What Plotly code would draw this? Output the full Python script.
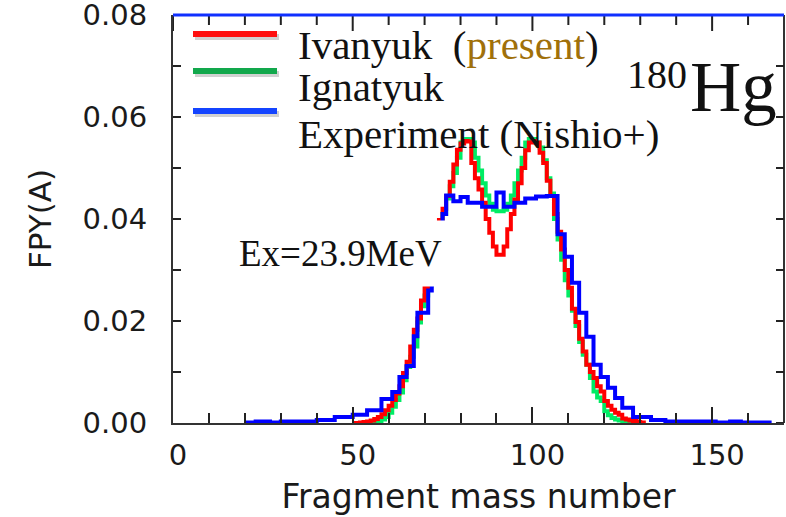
import plotly.graph_objects as go

# ---------------- data ----------------
mass_theory = list(range(50, 132))
ivanyuk = [0.0000, 0.0000, 0.0001, 0.0002, 0.0003, 0.0005, 0.0008, 0.0012, 0.0017, 0.0025,  # 50-59
           0.0034, 0.0045, 0.0058, 0.0072, 0.0098, 0.0120, 0.0150, 0.0183, 0.0205, 0.0240,  # 60-69
           0.0265, 0.0295, 0.0330, 0.0365, 0.0398, 0.0420, 0.0445, 0.0473, 0.0507, 0.0536,  # 70-79
           0.0548, 0.0553, 0.0552, 0.0510, 0.0480, 0.0458, 0.0432, 0.0400, 0.0373, 0.0346,  # 80-89
           0.0330, 0.0330, 0.0346, 0.0380, 0.0410, 0.0438, 0.0470, 0.0500, 0.0535, 0.0550,  # 90-99
           0.0553, 0.0550, 0.0530, 0.0510, 0.0475, 0.0445, 0.0410, 0.0375, 0.0340, 0.0300,  # 100-109
           0.0265, 0.0224, 0.0198, 0.0165, 0.0140, 0.0114, 0.0100, 0.0088, 0.0072, 0.0062,  # 110-119
           0.0043, 0.0034, 0.0026, 0.0020, 0.0016, 0.0009, 0.0007, 0.0005, 0.0004, 0.0002,  # 120-129
           0.0001, 0.0000]                                                                  # 130-131
ignatyuk = [0.0000, 0.0000, 0.0000, 0.0000, 0.0000, 0.0001, 0.0002, 0.0003, 0.0007, 0.0012,  # 50-59
            0.0020, 0.0032, 0.0045, 0.0060, 0.0084, 0.0110, 0.0130, 0.0150, 0.0197, 0.0229,  # 60-69
            0.0250, 0.0270, 0.0310, 0.0345, 0.0380, 0.0410, 0.0440, 0.0464, 0.0490, 0.0520,  # 70-79
            0.0550, 0.0557, 0.0557, 0.0550, 0.0520, 0.0495, 0.0470, 0.0446, 0.0430, 0.0418,  # 80-89
            0.0415, 0.0415, 0.0418, 0.0430, 0.0446, 0.0470, 0.0495, 0.0520, 0.0550, 0.0557,  # 90-99
            0.0557, 0.0550, 0.0540, 0.0515, 0.0480, 0.0450, 0.0400, 0.0360, 0.0320, 0.0280,  # 100-109
            0.0250, 0.0220, 0.0190, 0.0159, 0.0134, 0.0114, 0.0088, 0.0062, 0.0050, 0.0043,  # 110-119
            0.0023, 0.0015, 0.0010, 0.0007, 0.0005, 0.0002, 0.0001, 0.0000, 0.0000, 0.0000,  # 120-129
            0.0000, 0.0000]                                                                   # 130-131

mass_exp = list(range(20, 167))
experiment = [0.0001, 0.0001, 0.0001, 0.0003, 0.0003, 0.0003, 0.0003, 0.0001, 0.0001, 0.0001,  # 20-29
              0.0003, 0.0003, 0.0003, 0.0003, 0.0003, 0.0003, 0.0003, 0.0003, 0.0003, 0.0003,  # 30-39
              0.0006, 0.0006, 0.0006, 0.0006, 0.0006, 0.0012, 0.0012, 0.0012, 0.0012, 0.0012,  # 40-49
              0.0016, 0.0016, 0.0016, 0.0016, 0.0025, 0.0025, 0.0025, 0.0025, 0.0047, 0.0047,  # 50-59
              0.0047, 0.0061, 0.0061, 0.0090, 0.0090, 0.0112, 0.0112, 0.0170, 0.0216, 0.0216,  # 60-69
              0.0216, 0.0260, 0.0300, 0.0340, 0.0380, 0.0410, 0.0446, 0.0446, 0.0435, 0.0435,  # 70-79
              0.0443, 0.0443, 0.0432, 0.0432, 0.0432, 0.0432, 0.0424, 0.0424, 0.0424, 0.0424,  # 80-89
              0.0452, 0.0452, 0.0424, 0.0424, 0.0424, 0.0432, 0.0432, 0.0432, 0.0440, 0.0440,  # 90-99
              0.0440, 0.0444, 0.0444, 0.0444, 0.0445, 0.0445, 0.0445, 0.0370, 0.0370, 0.0326,  # 100-109
              0.0326, 0.0275, 0.0275, 0.0216, 0.0216, 0.0169, 0.0169, 0.0114, 0.0114, 0.0090,  # 110-119
              0.0090, 0.0069, 0.0069, 0.0049, 0.0049, 0.0030, 0.0030, 0.0030, 0.0012, 0.0012,  # 120-129
              0.0012, 0.0012, 0.0012, 0.0006, 0.0006, 0.0006, 0.0006, 0.0003, 0.0003, 0.0003,  # 130-139
              0.0003, 0.0003, 0.0003, 0.0003, 0.0003, 0.0003, 0.0003, 0.0003, 0.0003, 0.0003,  # 140-149
              0.0003, 0.0001, 0.0001, 0.0001, 0.0001, 0.0003, 0.0003, 0.0003, 0.0001, 0.0001,  # 150-159
              0.0001, 0.0001, 0.0001, 0.0001, 0.0001, 0.0001, 0.0000]                          # 160-166

x_tick_vals = [0, 50, 100, 150]
x_tick_text = ["0", "50", "100", "150"]
x_minor_vals = [0, 10, 20, 30, 40, 50, 60, 70, 80, 90, 100, 110, 120, 130, 140, 150, 160, 170]
y_tick_vals = [0.00, 0.02, 0.04, 0.06, 0.08]
y_tick_text = ["0.00", "0.02", "0.04", "0.06", "0.08"]
y_minor_vals = [0.00, 0.01, 0.02, 0.03, 0.04, 0.05, 0.06, 0.07, 0.08]

legend_names = ["Ivanyuk  (<span style='color:#a0700a'>present</span>)",
                "Ignatyuk",
                "Experiment (Nishio+)"]

# ---------------- figure ----------------
W, H = 786, 517
ML, MR, MT, MB = 173, 2, 15, 94
PW, PH = W - ML - MR, H - MT - MB


def px_x(px):
    return (px - ML) / PW


def px_y(py):
    return (H - MB - py) / PH


fig = go.Figure()
fig.add_trace(go.Scatter(x=mass_theory, y=ignatyuk, mode="lines", line=dict(color="#00ec64", width=4, shape="hv"),
                         name="Ignatyuk", showlegend=False))
fig.add_trace(go.Scatter(x=mass_theory, y=ivanyuk, mode="lines", line=dict(color="#ff0000", width=4, shape="hv"),
                         name="Ivanyuk", showlegend=False))
fig.add_trace(go.Scatter(x=mass_exp, y=experiment, mode="lines", line=dict(color="#0000ff", width=4, shape="hv"),
                         name="Experiment", showlegend=False))

axis_font = dict(family="DejaVu Sans", size=29, color="#1a1a1a")

fig.update_xaxes(range=[0, 170], tickvals=x_tick_vals, ticktext=x_tick_text,
                 ticks="inside", ticklen=16, tickwidth=2, tickcolor="#222",
                 minor=dict(tickvals=x_minor_vals, ticks="inside", ticklen=10, tickwidth=2, tickcolor="#222"),
                 showline=True, linecolor="#333", linewidth=2, mirror=False,
                 showgrid=False, zeroline=False, tickfont=axis_font,
                 ticklabelstandoff=5, ticklabelshift=5,
                 title=dict(text="Fragment mass number",
                            font=dict(family="DejaVu Sans", size=33, color="#1a1a1a"), standoff=14))
fig.update_yaxes(range=[0, 0.08], tickvals=y_tick_vals, ticktext=y_tick_text,
                 ticks="inside", ticklen=8, tickwidth=2, tickcolor="#222",
                 minor=dict(tickvals=y_minor_vals, ticks="inside", ticklen=8, tickwidth=2, tickcolor="#222"),
                 showline=True, linecolor="#333", linewidth=2, mirror=False,
                 showgrid=False, zeroline=False, tickfont=axis_font, ticklabelstandoff=18,
                 ticklabeloverflow="allow",
                 title=dict(text="FPY(A)", font=dict(family="DejaVu Sans", size=31, color="#1a1a1a"),
                            standoff=22))

shapes = []
tick_line = dict(color="#222", width=2)
# top frame ticks (through the x scale), pointing down
for v in x_minor_vals:
    ln = 16 if v in x_tick_vals else 10
    shapes.append(dict(type="line", xref="x", yref="paper", x0=v, x1=v, y0=1, y1=1 - ln / PH, line=tick_line))
# right frame line and ticks (through the y scale), pointing left
shapes.append(dict(type="line", xref="paper", yref="paper", x0=1, x1=1, y0=0, y1=1,
                   line=dict(color="#333", width=2)))
for v in y_minor_vals:
    shapes.append(dict(type="line", xref="paper", yref="y", x0=1, x1=1 - 8 / PW, y0=v, y1=v, line=tick_line))
# blue top border
shapes.append(dict(type="line", xref="paper", yref="paper", x0=0, x1=1, y0=1, y1=1,
                   line=dict(color="#1030ff", width=3), layer="above"))
# legend swatches (with soft shadow)
legend_colors = ["#ff1010", "#12a84c", "#1444ff"]
legend_y = [34, 71, 111]
for c, yy in zip(legend_colors, legend_y):
    shapes.append(dict(type="line", xref="paper", yref="paper", x0=px_x(195), x1=px_x(279),
                       y0=px_y(yy + 3), y1=px_y(yy + 3), line=dict(color="rgba(0,0,0,0.18)", width=6)))
    shapes.append(dict(type="line", xref="paper", yref="paper", x0=px_x(193), x1=px_x(277),
                       y0=px_y(yy), y1=px_y(yy), line=dict(color=c, width=6)))

serif = "Liberation Serif"
ann = []
for name, yy in zip(legend_names, [45, 87, 134]):
    ann.append(dict(text=name, xref="paper", yref="paper", x=px_x(296), y=px_y(yy),
                    xanchor="left", yanchor="middle", showarrow=False,
                    font=dict(family=serif, size=41, color="#111")))
ann.append(dict(text="180", xref="paper", yref="paper", x=px_x(625), y=px_y(74),
                xanchor="left", yanchor="middle", showarrow=False,
                font=dict(family=serif, size=40, color="#111")))
ann.append(dict(text="Hg", xref="paper", yref="paper", x=px_x(688), y=px_y(87),
                xanchor="left", yanchor="middle", showarrow=False,
                font=dict(family=serif, size=71, color="#111")))
ann.append(dict(text="Ex=23.9MeV", xref="paper", yref="paper", x=px_x(226), y=px_y(254),
                xanchor="left", yanchor="middle", showarrow=False, bgcolor="white", borderpad=12,
                font=dict(family=serif, size=37, color="#111")))

fig.update_layout(width=W, height=H, margin=dict(l=ML, r=MR, t=MT, b=MB, autoexpand=False),
                  paper_bgcolor="white", plot_bgcolor="white", showlegend=False,
                  shapes=shapes, annotations=ann)

fig.write_html("out.html")
